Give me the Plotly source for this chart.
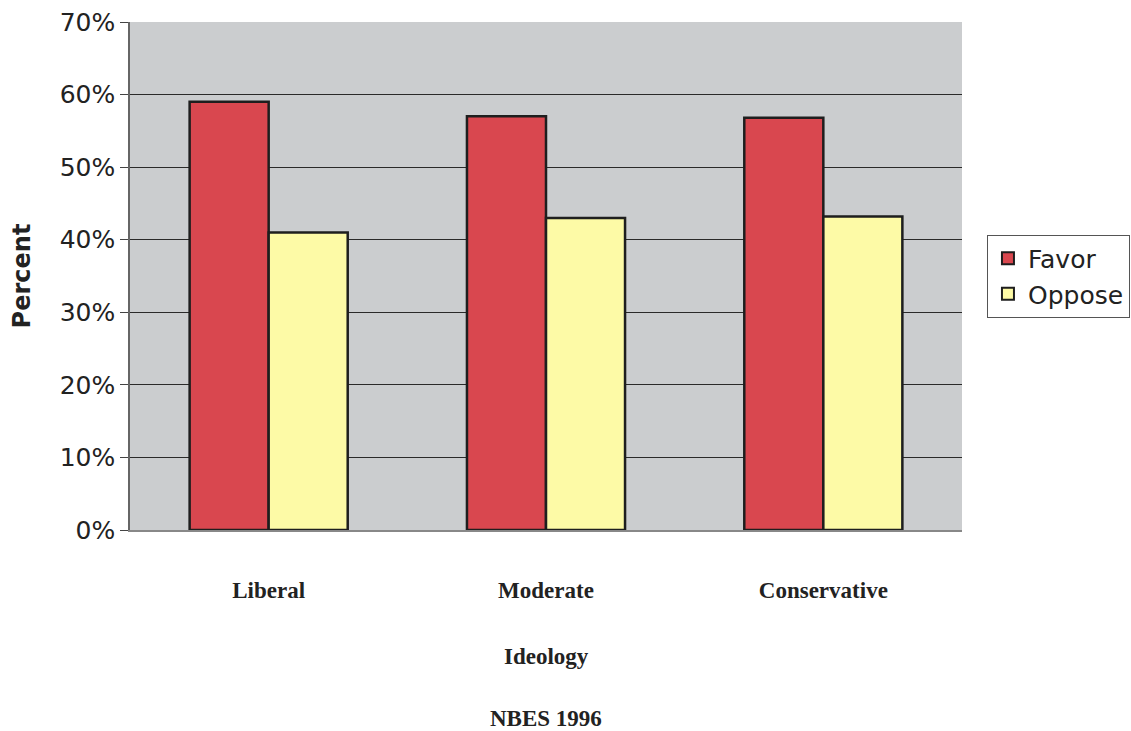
import plotly.graph_objects as go

categories = ["Liberal", "Moderate", "Conservative"]
favor = [59.0, 57.0, 56.8]
oppose = [41.0, 43.0, 43.2]
y_ticks = [0, 10, 20, 30, 40, 50, 60, 70]
y_tick_labels = [f"{v}%" for v in y_ticks]

fig = go.Figure()
fig.add_trace(go.Bar(
    x=categories, y=favor, name="Favor",
    marker=dict(color="#d9474f", line=dict(color="#1e1e1e", width=2.5)),
))
fig.add_trace(go.Bar(
    x=categories, y=oppose, name="Oppose",
    marker=dict(color="#fdfaa6", line=dict(color="#1e1e1e", width=2.5)),
))

fig.update_layout(
    width=1131, height=731,
    margin=dict(l=130, r=169, t=22, b=201, autoexpand=False),
    paper_bgcolor="white",
    plot_bgcolor="#cbcdcf",
    barmode="group",
    bargap=0.43,
    bargroupgap=0,
    font=dict(family="DejaVu Sans", color="#222222"),
    showlegend=True,
    legend=dict(
        x=1.03, y=0.5, xanchor="left", yanchor="middle",
        bordercolor="#555555", borderwidth=1, bgcolor="white",
        font=dict(family="DejaVu Sans", size=25, color="#222222"),
        itemsizing="constant", tracegroupgap=6, itemwidth=30,
    ),
    xaxis=dict(
        showline=True, linecolor="#888888", linewidth=2,
        ticks="", ticklabelstandoff=38,
        tickfont=dict(family="Liberation Serif", size=23, color="#222222", weight="bold"),
        showgrid=False,
    ),
    yaxis=dict(
        range=[0, 70],
        tickvals=y_ticks, ticktext=y_tick_labels,
        tickfont=dict(family="DejaVu Sans", size=25, color="#222222"),
        showline=True, linecolor="#666666", linewidth=1.5,
        ticks="outside", ticklen=8, tickcolor="#444444",
        showgrid=True, gridcolor="#2a2a2a", gridwidth=1,
        zeroline=False,
        title=dict(text="<b>Percent</b>", font=dict(family="DejaVu Sans", size=24, color="#222222"), standoff=22),
    ),
)

# caption lines below the axis, placed in pixel terms
plot_h = 731 - 22 - 201
fig.add_annotation(
    text="<b>Ideology</b>", xref="paper", x=0.5, yref="paper", y=(530 - 656) / plot_h,
    yanchor="middle", showarrow=False,
    font=dict(family="Liberation Serif", size=23, color="#222222"),
)
fig.add_annotation(
    text="<b>NBES 1996</b>", xref="paper", x=0.5, yref="paper", y=(530 - 718) / plot_h,
    yanchor="middle", showarrow=False,
    font=dict(family="Liberation Serif", size=23, color="#222222"),
)

fig.write_html("out.html")
